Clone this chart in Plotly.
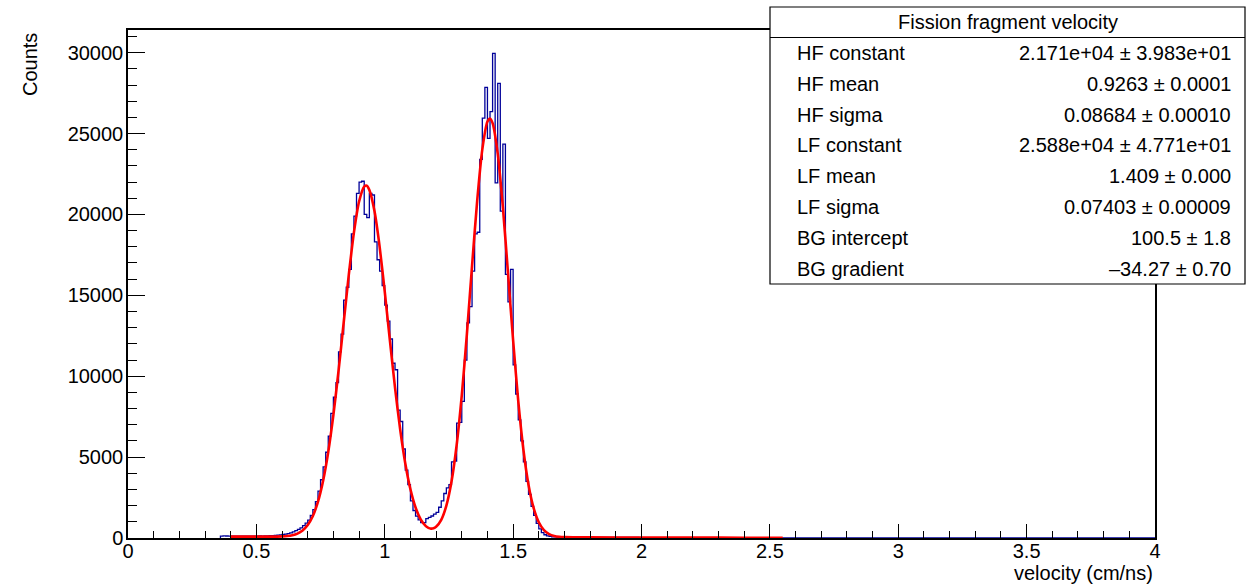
import plotly.graph_objects as go

# ---------------- data ----------------
bin_width = 0.01          # 400 bins over 0..4
first_bin_low = 0.36      # first filled bin

# counts per bin, bins 0.36 .. 1.69
peak_counts = [
    120, 130, 125, 120, 115, 120, 110, 115, 120, 110,        # 0.36-0.45
    115, 120, 110, 115, 120, 125, 120, 130, 135, 140,        # 0.46-0.55
    145, 160, 175, 190, 215, 240, 275, 320, 380, 450,        # 0.56-0.65
    530, 620, 760, 920, 1100, 1400, 1750, 2250, 2900, 3600,  # 0.66-0.75
    4400, 5300, 6300, 7700, 8700, 9600, 11500, 12600, 14700, 15500,   # 0.76-0.85
    16600, 18800, 19900, 21300, 22000, 22050, 20000, 19800, 21300, 21200,  # 0.86-0.95
    18300, 17200, 16500, 15600, 14400, 13400, 12300, 10800, 10400, 7900,   # 0.96-1.05
    7200, 5500, 4200, 3300, 2300, 1700, 1350, 1120, 950, 950,  # 1.06-1.15
    1200, 1280, 1360, 1480, 1590, 1900, 2300, 2750, 3100, 3300,  # 1.16-1.25
    4700, 4750, 7100, 7150, 8450, 11000, 13300, 14300, 16500, 18800,  # 1.26-1.35
    18900, 23400, 25950, 27850, 24700, 26350, 29950, 21950, 28100, 20200,  # 1.36-1.45
    24350, 16300, 14600, 16600, 10700, 8900, 7300, 6000, 4700, 3500,  # 1.46-1.55
    2700, 1950, 1400, 900, 560, 330, 200, 130, 95, 75,         # 1.56-1.65
    65, 60, 55, 55,                                            # 1.66-1.69
]
# counts per bin, bins 1.70 .. 3.99 (tiny tail along the axis)
tail_counts = [
    52, 50, 48, 47, 45, 44, 43, 42, 41, 40,
    40, 39, 38, 38, 37, 36, 36, 35, 35, 34,
    34, 33, 33, 32, 32, 31, 31, 30, 30, 29,
    29, 28, 28, 27, 27, 26, 26, 26, 25, 25,
    24, 24, 23, 23, 23, 22, 22, 21, 21, 21,
    20, 20, 19, 19, 19, 18, 18, 18, 17, 17,
    16, 16, 16, 15, 15, 15, 14, 14, 14, 13,
    13, 13, 12, 12, 12, 11, 11, 11, 10, 10,
    10, 9, 9, 9, 8, 8, 8, 8, 7, 7,
    7, 7, 6, 6, 6, 6, 5, 5, 5, 5,
    5, 4, 4, 4, 4, 4, 3, 3, 3, 3,
    3, 3, 3, 2, 2, 2, 2, 2, 2, 2,
    2, 2, 1, 1, 1, 1, 1, 1, 1, 1,
    1, 0, 1, 0, 1, 1, 0, 0, 1, 0,
    0, 1, 0, 0, 0, 1, 0, 0, 0, 0,
    1, 0, 0, 0, 0, 0, 1, 0, 0, 0,
    0, 0, 0, 1, 0, 0, 0, 0, 0, 0,
    0, 0, 0, 0, 0, 1, 0, 0, 0, 0,
    0, 0, 0, 0, 0, 0, 0, 0, 0, 0,
    0, 0, 0, 0, 0, 0, 0, 0, 0, 0,
    0, 0, 0, 0, 0, 0, 0, 0, 0, 0,
    0, 0, 0, 0, 0, 0, 0, 0, 0, 0,
    0, 0, 0, 0, 0, 0, 0, 0, 0, 0,
]

# fitted curve (red)
fit_x = [0.40, 0.45, 0.50, 0.55, 0.60, 0.62, 0.64, 0.66, 0.68, 0.70,
         0.72, 0.74, 0.76, 0.78, 0.80, 0.82, 0.84, 0.86, 0.88, 0.90,
         0.92, 0.93, 0.94, 0.96, 0.98, 1.00, 1.02, 1.04, 1.06, 1.08,
         1.10, 1.12, 1.14, 1.16, 1.17, 1.18, 1.19, 1.20, 1.22, 1.24,
         1.26, 1.28, 1.30, 1.32, 1.34, 1.36, 1.38, 1.40, 1.41, 1.42,
         1.44, 1.46, 1.48, 1.50, 1.52, 1.54, 1.56, 1.58, 1.60, 1.62,
         1.64, 1.66, 1.68, 1.70, 1.75, 1.80, 2.00, 2.20, 2.40, 2.55]
fit_y = [87, 85, 83, 84, 98, 122, 173, 274, 466, 803,
         1365, 2246, 3539, 5321, 7606, 10324, 13305, 16275, 18892, 20800,
         21720, 21778, 21513, 20211, 18012, 15226, 12210, 9294, 6712, 4606,
         3010, 1886, 1150, 734, 626, 582, 603, 692, 1124, 2000,
         3487, 5733, 8811, 12620, 16818, 20843, 24023, 25741, 25932, 25648,
         23757, 20464, 16387, 12207, 8456, 5456, 3279, 1842, 974, 490,
         244, 126, 75, 54, 41, 39, 32, 25, 18, 13]

x_tick_vals = [0, 0.5, 1, 1.5, 2, 2.5, 3, 3.5, 4]
x_tick_text = ["0", "0.5", "1", "1.5", "2", "2.5", "3", "3.5", "4"]
y_tick_vals = [0, 5000, 10000, 15000, 20000, 25000, 30000]
y_tick_text = ["0", "5000", "10000", "15000", "20000", "25000", "30000"]
x_range = [0, 4]
y_range = [0, 31400]

stats_title = "Fission fragment velocity"
stats_names = ["HF constant", "HF mean", "HF sigma", "LF constant",
               "LF mean", "LF sigma", "BG intercept", "BG gradient"]
stats_values = ["2.171e+04 \u00b1 3.983e+01", "0.9263 \u00b1 0.0001",
                "0.08684 \u00b1 0.00010", "2.588e+04 \u00b1 4.771e+01",
                "1.409 \u00b1 0.000", "0.07403 \u00b1 0.00009",
                "100.5 \u00b1 1.8", "\u201334.27 \u00b1 0.70"]

# ---------------- figure ----------------
counts = peak_counts + tail_counts
edges = [round(first_bin_low + i * bin_width, 4) for i in range(len(counts) + 1)]
hist_x = [edges[0]] + edges
hist_y = [0] + counts + [counts[-1]]

W, H = 1246, 584
L, R, T, B = 128, 91, 30, 46
PW, PH = W - L - R, H - T - B


def px(xp):
    return (xp - L) / PW


def py(yp):
    return (H - B - yp) / PH


FONT = "Liberation Sans, Arial, Helvetica, sans-serif"

fig = go.Figure()
fig.add_trace(go.Scatter(x=hist_x, y=hist_y, mode="lines",
                         line=dict(color="#000099", width=1.3, shape="hv"),
                         hoverinfo="skip", showlegend=False))
fig.add_trace(go.Scatter(x=fit_x, y=fit_y, mode="lines",
                         line=dict(color="#ff0000", width=2.6, shape="spline",
                                   smoothing=0.6),
                         hoverinfo="skip", showlegend=False))

minor_x = [round(i * 0.1, 2) for i in range(41)]
minor_y = [i * 1000 for i in range(32)]

fig.update_layout(
    width=W, height=H,
    margin=dict(l=L, r=R, t=T, b=B, pad=0),
    paper_bgcolor="white", plot_bgcolor="white",
    font=dict(family=FONT, size=20, color="black"),
    showlegend=False,
    xaxis=dict(range=x_range, tickmode="array", tickvals=x_tick_vals,
               ticktext=x_tick_text, ticks="inside", ticklen=14,
               tickwidth=1, tickcolor="black",
               minor=dict(tickmode="array", tickvals=minor_x, ticks="inside",
                          ticklen=7, tickwidth=1, tickcolor="black",
                          showgrid=False),
               showline=True, linecolor="black", linewidth=1.5, mirror=True,
               showgrid=False, zeroline=False, ticklabelstandoff=-6,
               tickfont=dict(size=20)),
    yaxis=dict(range=y_range, tickmode="array", tickvals=y_tick_vals,
               ticktext=y_tick_text, ticks="inside", ticklen=17,
               tickwidth=1, tickcolor="black",
               minor=dict(tickmode="array", tickvals=minor_y, ticks="inside",
                          ticklen=9, tickwidth=1, tickcolor="black",
                          showgrid=False),
               showline=True, linecolor="black", linewidth=1.5, mirror=True,
               showgrid=False, zeroline=False, ticklabelstandoff=-1,
               tickfont=dict(size=20)),
)

# axis titles
fig.add_annotation(text="velocity (cm/ns)", xref="paper", yref="paper",
                   x=px(1154), y=py(573), xanchor="right", yanchor="middle",
                   showarrow=False, font=dict(size=20), borderpad=0)
fig.add_annotation(text="Counts", xref="paper", yref="paper",
                   x=px(30), y=py(65), xanchor="center", yanchor="middle",
                   textangle=-90, showarrow=False, font=dict(size=20))

# stats box
box_l, box_r, box_t, box_b, sep = 770, 1245, 7, 284, 37.5
fig.add_shape(type="rect", xref="paper", yref="paper",
              x0=px(box_l), x1=px(box_r), y0=py(box_b), y1=py(box_t),
              line=dict(color="black", width=1.2), fillcolor="white",
              layer="above")
fig.add_shape(type="line", xref="paper", yref="paper",
              x0=px(box_l), x1=px(box_r), y0=py(sep), y1=py(sep),
              line=dict(color="black", width=1.2), layer="above")
fig.add_annotation(text=stats_title, xref="paper", yref="paper",
                   x=px((box_l + box_r) / 2), y=py((box_t + sep) / 2),
                   xanchor="center", yanchor="middle", showarrow=False,
                   font=dict(size=20))
row_h = (box_b - sep) / len(stats_names)
for i, (nm, val) in enumerate(zip(stats_names, stats_values)):
    yc = sep + row_h * (i + 0.5)
    fig.add_annotation(text=nm, xref="paper", yref="paper", x=px(795),
                       y=py(yc), xanchor="left", yanchor="middle",
                       showarrow=False, font=dict(size=20))
    fig.add_annotation(text=val, xref="paper", yref="paper", x=px(1233),
                       y=py(yc), xanchor="right", yanchor="middle",
                       showarrow=False, font=dict(size=20))

fig.write_html(
    "out.html",
    config={"displayModeBar": False},
    post_script="document.body.style.margin='0';document.body.style.padding='0';",
)
